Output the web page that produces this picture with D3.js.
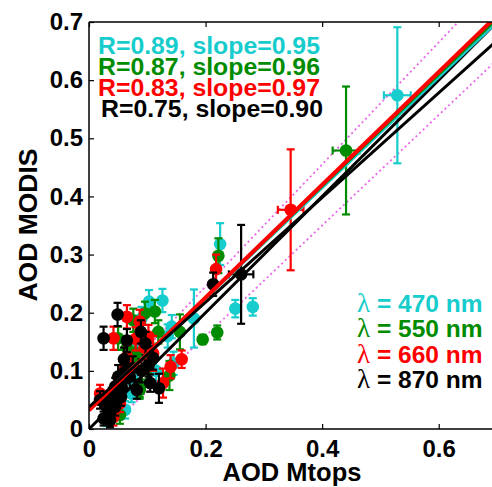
<!DOCTYPE html>
<html>
<head>
<meta charset="utf-8">
<title>AOD MODIS vs Mtops</title>
<script src="https://cdn.jsdelivr.net/npm/d3@7"></script>
<style>
  body { margin: 0; background: #fff; }
  text { font-family: "Liberation Sans", Arial, sans-serif; font-weight: bold; }
</style>
</head>
<body>
<div id="graphic"></div>
<script>
// [mtops, modis, y error, x error]
var pts470 = [[0.529,0.574,0.117,0.023],[0.225,0.318,0.036,0],[0.251,0.207,0.015,0],[0.281,0.21,0.015,0],
  [0.103,0.219,0.02,0],[0.126,0.221,0.02,0],[0.142,0.176,0.02,0],[0.18,0.19,0.05,0],[0.145,0.113,0.02,0],
  [0.082,0.147,0.02,0],[0.062,0.033,0.015,0],[0.073,0.061,0.015,0],[0.03,0.02,0.015,0],[0.095,0.13,0.02,0],
  [0.115,0.1,0.02,0],[0.05,0.05,0.015,0],[0.135,0.16,0.02,0],[0.075,0.085,0.02,0],[0.09,0.19,0.02,0]];
var pts550 = [[0.441,0.479,0.11,0.023],[0.222,0.298,0.03,0],[0.195,0.154,0.008,0],[0.22,0.166,0.012,0],
  [0.138,0.092,0.025,0],[0.05,0.156,0.02,0],[0.076,0.187,0.02,0],[0.113,0.202,0.02,0],[0.096,0.199,0.02,0],
  [0.119,0.167,0.02,0],[0.156,0.167,0.03,0],[0.076,0.12,0.02,0],[0.087,0.067,0.015,0],[0.053,0.024,0.015,0],
  [0.087,0.07,0.015,0],[0.08,0.13,0.02,0],[0.06,0.09,0.02,0],[0.065,0.14,0.02,0],[0.1,0.105,0.02,0]];
var pts660 = [[0.346,0.377,0.104,0.022],[0.218,0.275,0.025,0],[0.159,0.12,0.015,0],[0.14,0.107,0.02,0],
  [0.127,0.079,0.025,0],[0.042,0.156,0.02,0],[0.065,0.193,0.02,0],[0.087,0.185,0.02,0],[0.102,0.159,0.02,0],
  [0.065,0.124,0.02,0],[0.067,0.11,0.02,0],[0.045,0.061,0.015,0],[0.042,0.021,0.015,0],[0.053,0.044,0.015,0],
  [0.019,0.061,0.015,0],[0.095,0.14,0.02,0],[0.11,0.13,0.03,0],[0.06,0.1,0.02,0],[0.08,0.155,0.02,0]];
var pts870 = [[0.261,0.266,0.085,0.021],[0.213,0.249,0.02,0],[0.025,0.156,0.02,0],[0.049,0.197,0.02,0],
  [0.065,0.152,0.02,0],[0.089,0.167,0.02,0],[0.097,0.147,0.02,0],[0.11,0.122,0.02,0],[0.102,0.11,0.02,0],
  [0.105,0.079,0.015,0],[0.12,0.07,0.025,0],[0.082,0.067,0.015,0],[0.062,0.099,0.02,0],[0.05,0.09,0.02,0],
  [0.056,0.073,0.015,0],[0.045,0.073,0.015,0],[0.019,0.05,0.015,0],[0.03,0.038,0.015,0],[0.025,0.018,0.012,0],
  [0.036,0.015,0.012,0],[0.045,0.038,0.015,0],[0.039,0.056,0.015,0],[0.06,0.12,0.02,0],[0.07,0.09,0.02,0],
  [0.035,0.03,0.012,0],[0.055,0.055,0.015,0],[0.075,0.105,0.02,0],[0.09,0.1,0.02,0]];

var wavelengths = ["470", "550", "660", "870"];
var colors = ["#17cccc", "#008c00", "#ff0000", "#000000"];
var rValues = ["0.89", "0.87", "0.83", "0.75"];
var slopes = [0.95, 0.96, 0.97, 0.90];
var intercepts = [0.035, 0.034, 0.032, 0.038];
var xTicks = [0, 0.2, 0.4, 0.6];
var yTicks = [0, 0.1, 0.2, 0.3, 0.4, 0.5, 0.6, 0.7];
var series = [pts470, pts550, pts660, pts870];

var width = 492, height = 487;
var leftX = 89, topY = 22, bottomY = 429, rightX = 497;

var svg = d3.select("#graphic").append("svg")
    .attr("width", width)
    .attr("height", height);

var x = d3.scaleLinear().domain([0, 0.7]).range([leftX, rightX]);
var y = d3.scaleLinear().domain([0, 0.7]).range([bottomY, topY]);

svg.append("clipPath").attr("id", "clip")
  .append("rect").attr("x", leftX).attr("y", topY)
  .attr("width", rightX - leftX).attr("height", bottomY - topY);

var plot = svg.append("g").attr("clip-path", "url(#clip)");

// error envelope lines (dotted)
[[1.05, 0.035], [0.95, -0.03]].forEach(function (e) {
  plot.append("line")
    .attr("x1", x(0)).attr("y1", y(e[1]))
    .attr("x2", x(0.7)).attr("y2", y(e[0] * 0.7 + e[1]))
    .attr("stroke", "#e866e8").attr("stroke-width", 1.8)
    .attr("stroke-dasharray", "2,3");
});

// points with error bars
series.forEach(function (pts, i) {
  var g = plot.append("g").attr("stroke", colors[i]).attr("fill", colors[i]).attr("stroke-width", 2.2);
  var pg = g.selectAll("g").data(pts).enter().append("g");
  pg.append("line")
    .attr("x1", function (d) { return x(d[0]); }).attr("x2", function (d) { return x(d[0]); })
    .attr("y1", function (d) { return y(d[1] - d[2]); }).attr("y2", function (d) { return y(d[1] + d[2]); });
  [-1, 1].forEach(function (s) {
    pg.append("line")
      .attr("x1", function (d) { return x(d[0]) - 4; }).attr("x2", function (d) { return x(d[0]) + 4; })
      .attr("y1", function (d) { return y(d[1] + s * d[2]); }).attr("y2", function (d) { return y(d[1] + s * d[2]); });
  });
  var hx = pg.filter(function (d) { return d[3] > 0; });
  hx.append("line")
    .attr("x1", function (d) { return x(d[0] - d[3]); }).attr("x2", function (d) { return x(d[0] + d[3]); })
    .attr("y1", function (d) { return y(d[1]); }).attr("y2", function (d) { return y(d[1]); });
  [-1, 1].forEach(function (s) {
    hx.append("line")
      .attr("x1", function (d) { return x(d[0] + s * d[3]); }).attr("x2", function (d) { return x(d[0] + s * d[3]); })
      .attr("y1", function (d) { return y(d[1]) - 4; }).attr("y2", function (d) { return y(d[1]) + 4; });
  });
  pg.append("circle")
    .attr("cx", function (d) { return x(d[0]); })
    .attr("cy", function (d) { return y(d[1]); })
    .attr("r", 6.3).attr("stroke", "none");
});

// 1:1 line
plot.append("line")
  .attr("x1", x(0)).attr("y1", y(0)).attr("x2", x(0.7)).attr("y2", y(0.7))
  .attr("stroke", "#000").attr("stroke-width", 3);

// regression lines
slopes.forEach(function (s, i) {
  plot.append("line")
    .attr("x1", x(0)).attr("y1", y(intercepts[i]))
    .attr("x2", x(0.7)).attr("y2", y(intercepts[i] + s * 0.7))
    .attr("stroke", colors[i]).attr("stroke-width", i == 2 ? 4 : 3);
});

// axes frame
svg.append("line").attr("x1", leftX).attr("x2", width).attr("y1", topY).attr("y2", topY)
  .attr("stroke", "#000").attr("stroke-width", 1.5);
svg.append("line").attr("x1", leftX).attr("x2", width).attr("y1", bottomY).attr("y2", bottomY)
  .attr("stroke", "#000").attr("stroke-width", 1.5);
svg.append("line").attr("x1", leftX).attr("x2", leftX).attr("y1", topY).attr("y2", bottomY)
  .attr("stroke", "#000").attr("stroke-width", 1.5);

var xAxis = svg.append("g").attr("transform", "translate(0," + bottomY + ")")
  .call(d3.axisBottom(x).tickValues(xTicks).tickSizeInner(-5).tickSizeOuter(0).tickPadding(11)
    .tickFormat(function (d) { return d === 0 ? "0" : d3.format(".1f")(d); }));
var xTop = svg.append("g").attr("transform", "translate(0," + topY + ")")
  .call(d3.axisTop(x).tickValues(xTicks).tickSizeInner(-5).tickSizeOuter(0).tickFormat(""));
var yAxis = svg.append("g").attr("transform", "translate(" + leftX + ",0)")
  .call(d3.axisLeft(y).tickValues(yTicks).tickSizeInner(-5).tickSizeOuter(0).tickPadding(6)
    .tickFormat(function (d) { return d === 0 ? "0" : d3.format(".1f")(d); }));
[xAxis, xTop, yAxis].forEach(function (a) {
  a.select(".domain").remove();
  a.selectAll("line").attr("stroke", "#000").attr("stroke-width", 1.2);
  a.selectAll("text").attr("font-size", 24).attr("fill", "#000")
    .style("font-family", "'Liberation Sans', Arial, sans-serif").style("font-weight", "bold");
});

// axis labels
svg.append("text").attr("x", 292).attr("y", 481).attr("text-anchor", "middle")
  .attr("font-size", 25.5).text("AOD Mtops");
svg.append("text").attr("transform", "translate(37,225) rotate(-90)").attr("text-anchor", "middle")
  .attr("font-size", 26.5).text("AOD MODIS");

// statistics text
rValues.forEach(function (r, i) {
  svg.append("text").attr("x", i == 3 ? 101 : 98).attr("y", 54 + i * 21)
    .attr("font-size", 24.8).attr("fill", colors[i])
    .text("R=" + r + ", slope=" + d3.format(".2f")(slopes[i]));
});

// wavelength legend
wavelengths.forEach(function (w, i) {
  var t = svg.append("text").attr("x", 357).attr("y", 312 + i * 25.3)
    .attr("font-size", 24.5).attr("fill", colors[i]);
  t.append("tspan").style("font-family", "'Liberation Serif', serif").style("font-weight", "normal")
    .attr("font-size", 27).text("\u03bb");
  t.append("tspan").text(" = " + w + " nm");
});
</script>
</body>
</html>
